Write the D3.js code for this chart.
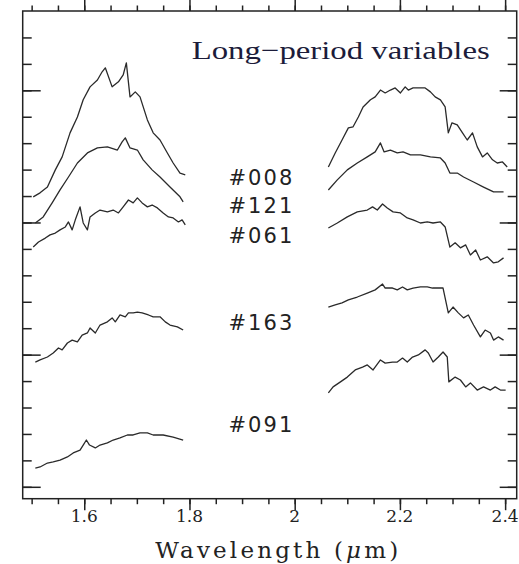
<!DOCTYPE html>
<html>
<head>
<meta charset="utf-8">
<script src="https://cdn.jsdelivr.net/npm/d3@7"></script>
<style>
  body { margin: 0; background: #fff; }
  .tick-label { font-family: "DejaVu Serif", serif; font-size: 17px; fill: #222; }
  .axis-title { font-family: "DejaVu Serif", serif; font-size: 23px; fill: #222; }
  .star-label { font-family: "DejaVu Sans", sans-serif; font-size: 21px; fill: #222; }
  .title { font-family: "Liberation Serif", serif; font-size: 26px; fill: #1c1c3a; }
</style>
</head>
<body>
<div class="chart"></div>
<script>
var svgWidth = 519;
var svgHeight = 564;

var margin = { top: 11, right: 2.3, bottom: 65.3, left: 22.7 };
var width = svgWidth - margin.left - margin.right;
var height = svgHeight - margin.top - margin.bottom;

// star ids, top to bottom, with the flux level of each label baseline
var starIds = ["#008", "#121", "#061", "#163", "#091"];
var labelFlux = [11.42, 10.35, 9.22, 5.93, 2.07];
var labelWave = 1.874;

// H band (left) and K band (right) spectra, [wavelength um, flux]
var h008 = [[1.503,10.97],[1.516,11.12],[1.530,11.34],[1.545,11.99],[1.558,12.48],[1.573,13.39],[1.587,13.99],[1.598,14.64],[1.611,15.13],[1.625,15.39],[1.634,15.70],[1.640,15.85],[1.653,15.13],[1.665,15.32],[1.674,15.58],[1.680,16.04],[1.687,14.75],[1.697,14.94],[1.706,14.75],[1.720,13.88],[1.731,13.39],[1.744,13.12],[1.758,12.63],[1.769,12.25],[1.782,11.87],[1.792,11.80]];
var k008 = [[2.064,12.10],[2.077,12.63],[2.090,13.12],[2.102,13.58],[2.111,13.62],[2.121,13.99],[2.130,14.37],[2.144,14.64],[2.153,14.75],[2.163,15.01],[2.172,14.90],[2.182,15.01],[2.191,15.09],[2.201,14.90],[2.210,15.13],[2.216,15.01],[2.225,15.09],[2.239,15.09],[2.248,15.09],[2.258,14.94],[2.267,14.75],[2.277,14.64],[2.286,14.37],[2.292,13.39],[2.299,13.77],[2.309,13.69],[2.319,13.39],[2.328,13.12],[2.338,13.39],[2.347,12.86],[2.357,12.48],[2.366,12.63],[2.376,12.37],[2.385,12.25],[2.395,12.29],[2.404,12.10]];

var h121 = [[1.507,9.98],[1.522,10.21],[1.539,10.74],[1.554,11.23],[1.570,11.72],[1.587,12.25],[1.606,12.63],[1.625,12.82],[1.644,12.86],[1.663,12.74],[1.672,13.05],[1.678,13.20],[1.687,12.82],[1.701,12.74],[1.712,12.37],[1.729,11.99],[1.744,11.72],[1.763,11.34],[1.782,10.97],[1.788,10.78]];
var k121 = [[2.064,11.23],[2.081,11.61],[2.100,11.99],[2.119,12.25],[2.138,12.48],[2.153,12.67],[2.163,13.01],[2.170,12.67],[2.182,12.74],[2.195,12.63],[2.206,12.67],[2.220,12.56],[2.239,12.56],[2.258,12.48],[2.277,12.44],[2.286,12.25],[2.295,11.87],[2.309,11.87],[2.321,11.72],[2.340,11.53],[2.359,11.34],[2.378,11.16],[2.397,11.16]];

var h061 = [[1.503,9.07],[1.513,9.26],[1.526,9.41],[1.535,9.53],[1.545,9.60],[1.554,9.72],[1.564,9.83],[1.570,10.02],[1.577,9.72],[1.583,10.10],[1.592,10.59],[1.598,9.98],[1.606,9.72],[1.611,10.21],[1.621,10.36],[1.630,10.47],[1.644,10.40],[1.655,10.47],[1.665,10.36],[1.674,10.59],[1.684,10.85],[1.693,10.74],[1.701,10.93],[1.710,10.74],[1.720,10.59],[1.729,10.66],[1.739,10.55],[1.750,10.36],[1.760,10.21],[1.769,10.17],[1.779,10.02],[1.786,10.10],[1.792,9.91]];
var k061 = [[2.064,9.79],[2.081,9.98],[2.100,10.21],[2.119,10.40],[2.138,10.47],[2.148,10.59],[2.157,10.47],[2.167,10.70],[2.176,10.55],[2.187,10.40],[2.201,10.36],[2.214,10.17],[2.225,10.10],[2.239,9.98],[2.252,10.02],[2.263,9.98],[2.277,10.02],[2.286,9.83],[2.295,9.07],[2.305,9.23],[2.315,9.04],[2.325,9.15],[2.334,8.77],[2.344,8.96],[2.353,8.58],[2.366,8.70],[2.378,8.47],[2.387,8.51],[2.397,8.66]];

var h163 = [[1.507,4.72],[1.516,4.80],[1.530,4.91],[1.541,5.06],[1.551,5.25],[1.558,5.18],[1.568,5.44],[1.577,5.55],[1.587,5.48],[1.596,5.74],[1.606,5.82],[1.611,6.01],[1.621,5.82],[1.630,6.12],[1.644,6.24],[1.653,6.39],[1.659,6.24],[1.668,6.50],[1.678,6.43],[1.684,6.58],[1.693,6.58],[1.701,6.61],[1.710,6.58],[1.722,6.50],[1.731,6.43],[1.744,6.43],[1.754,6.24],[1.763,6.12],[1.777,6.05],[1.788,5.93]];
var k163 = [[2.064,6.80],[2.077,6.88],[2.090,6.96],[2.102,7.07],[2.119,7.18],[2.138,7.33],[2.153,7.45],[2.167,7.67],[2.172,7.52],[2.186,7.52],[2.195,7.45],[2.205,7.56],[2.214,7.45],[2.225,7.52],[2.239,7.56],[2.252,7.56],[2.262,7.52],[2.271,7.52],[2.282,7.52],[2.292,6.58],[2.301,6.80],[2.311,6.58],[2.321,6.39],[2.330,6.50],[2.340,6.12],[2.353,5.67],[2.362,5.93],[2.372,5.82],[2.378,5.55],[2.387,5.67],[2.397,5.55]];

var h091 = [[1.507,0.71],[1.516,0.75],[1.530,0.90],[1.541,0.94],[1.554,1.01],[1.568,1.13],[1.579,1.28],[1.592,1.39],[1.598,1.58],[1.604,1.77],[1.610,1.58],[1.621,1.47],[1.630,1.58],[1.644,1.66],[1.655,1.77],[1.668,1.85],[1.682,1.96],[1.693,1.96],[1.706,2.04],[1.720,2.04],[1.731,1.96],[1.750,1.96],[1.769,1.88],[1.788,1.77]];
var k091 = [[2.064,3.55],[2.073,3.78],[2.087,3.97],[2.100,4.15],[2.115,4.42],[2.129,4.53],[2.138,4.61],[2.149,4.42],[2.163,4.80],[2.172,4.68],[2.186,4.72],[2.195,4.72],[2.205,4.87],[2.214,4.72],[2.224,4.91],[2.235,4.99],[2.248,5.18],[2.254,5.06],[2.263,4.72],[2.273,4.91],[2.282,5.10],[2.290,4.91],[2.293,3.97],[2.305,4.15],[2.315,4.04],[2.325,3.78],[2.334,3.93],[2.347,3.66],[2.359,3.78],[2.372,3.66],[2.381,3.78],[2.391,3.66],[2.401,3.66]];

var spectra = [h008, k008, h121, k121, h061, k061, h163, k163, h091, k091];

// axis ticks
var xMinorTicks = d3.range(1.5, 2.4001, 0.05);
var xMajorTicks = [1.6, 1.8, 2.0, 2.2, 2.4];
var xTickLabels = ["1.6", "1.8", "2", "2.2", "2.4"];
var yMinorTicks = d3.range(0, 18, 1);
var yMajorTicks = [0, 5, 10, 15];

var svg = d3.select(".chart")
  .append("svg")
  .attr("width", svgWidth)
  .attr("height", svgHeight);

var chartGroup = svg.append("g")
  .attr("transform", `translate(${margin.left}, ${margin.top})`);

var xScale = d3.scaleLinear().domain([1.483, 2.422]).range([0, width]);
var yScale = d3.scaleLinear().domain([-0.45, 18]).range([height, 0]);

// frame
chartGroup.append("rect")
  .attr("width", width)
  .attr("height", height)
  .attr("fill", "none")
  .attr("stroke", "#222")
  .attr("stroke-width", 1.5);

// ticks on all four sides via axis generators with no labels
function tickAxis(gen, scale, values, size) {
  return gen(scale).tickValues(values).tickSize(size).tickFormat("");
}
var axes = [
  [tickAxis(d3.axisTop, xScale, xMinorTicks, -5.5), `translate(0, ${height})`],
  [tickAxis(d3.axisTop, xScale, xMajorTicks, -11.5), `translate(0, ${height})`],
  [tickAxis(d3.axisBottom, xScale, xMinorTicks, -5.5), "translate(0, 0)"],
  [tickAxis(d3.axisBottom, xScale, xMajorTicks, -11.5), "translate(0, 0)"],
  [tickAxis(d3.axisLeft, yScale, yMinorTicks, -9), "translate(0, 0)"],
  [tickAxis(d3.axisLeft, yScale, yMajorTicks, -18), "translate(0, 0)"],
  [tickAxis(d3.axisRight, yScale, yMinorTicks, -9), `translate(${width}, 0)`],
  [tickAxis(d3.axisRight, yScale, yMajorTicks, -17), `translate(${width}, 0)`]
];
axes.forEach(function(a) {
  var g = chartGroup.append("g").attr("transform", a[1]).call(a[0]);
  g.select(".domain").remove();
  g.selectAll("line").attr("stroke", "#222").attr("stroke-width", 1.5);
});

// tick labels
chartGroup.selectAll(".tick-label")
  .data(xMajorTicks)
  .enter()
  .append("text")
  .attr("class", "tick-label")
  .attr("x", d => xScale(d))
  .attr("y", height + 23)
  .attr("text-anchor", "middle")
  .text((d, i) => xTickLabels[i]);

// spectra
var line = d3.line()
  .x(d => xScale(d[0]))
  .y(d => yScale(d[1]));

chartGroup.selectAll(".spectrum")
  .data(spectra)
  .enter()
  .append("path")
  .attr("class", "spectrum")
  .attr("d", line)
  .attr("fill", "none")
  .attr("stroke", "#2a2a2a")
  .attr("stroke-width", 1.3)
  .attr("stroke-linejoin", "round");

// star labels
chartGroup.selectAll(".star-label")
  .data(starIds)
  .enter()
  .append("text")
  .attr("class", "star-label")
  .attr("x", xScale(labelWave))
  .attr("y", (d, i) => yScale(labelFlux[i]))
  .attr("textLength", 64)
  .attr("lengthAdjust", "spacing")
  .text(d => d);

// title
chartGroup.append("text")
  .attr("class", "title")
  .attr("x", 169)
  .attr("y", 47.5)
  .attr("textLength", 298)
  .attr("lengthAdjust", "spacingAndGlyphs")
  .text("Long\u2212period variables");

// x axis label
var xLabel = chartGroup.append("text")
  .attr("class", "axis-title")
  .attr("x", 132.5)
  .attr("y", height + 59.5)
  .attr("textLength", 243)
  .attr("lengthAdjust", "spacing");
xLabel.append("tspan").text("Wavelength (");
xLabel.append("tspan").attr("font-style", "italic").text("\u03bc");
xLabel.append("tspan").text("m)");
</script>
</body>
</html>
